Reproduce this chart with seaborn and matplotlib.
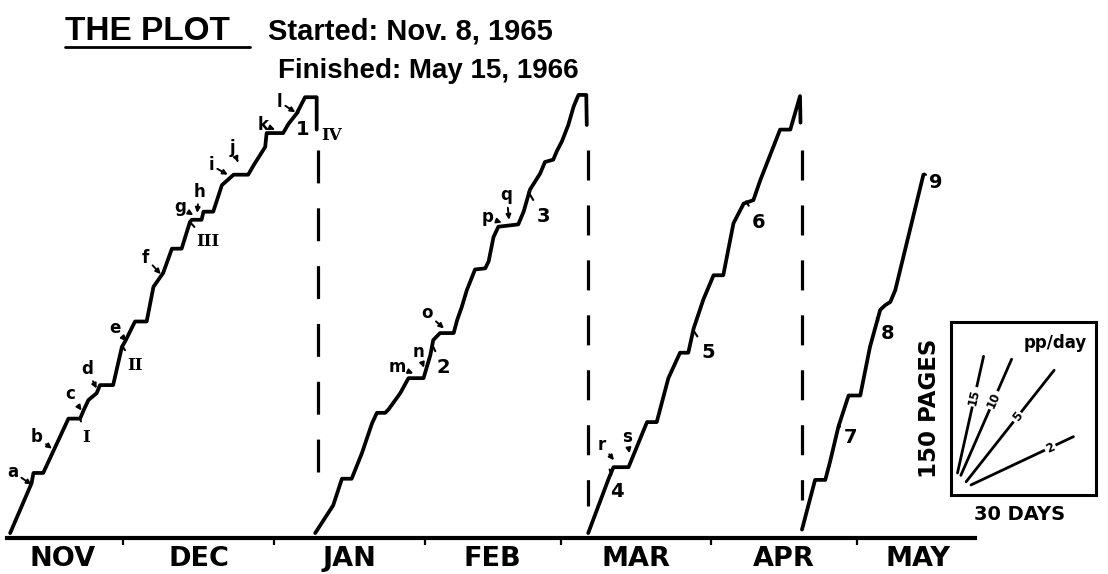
import numpy as np
import pandas as pd
import matplotlib
matplotlib.use("Agg")
import matplotlib.pyplot as plt
from matplotlib.lines import Line2D
import seaborn as sns

# x = days since Nov 1, 1965 ; y = pages written within the current sweep
seg1_days = [6.7, 11.1, 11.5, 13.5, 18.7, 21.1, 21.8, 22.8, 24.5, 25.2, 27.9, 29.7, 30.4, 32.4, 34.8,
             36.2, 38.2, 40.0, 42.0, 43.7, 44.1, 46.1, 46.5, 48.5, 50.3, 52.7, 55.7, 56.8, 59.2, 59.5,
             62.9, 64.0, 65.7, 67.4, 69.8, 69.8]
seg1_pages = [4, 47, 56, 56, 103, 103, 110, 119, 125, 132, 132, 165, 170, 187, 187,
              217, 229, 250, 250, 273, 275, 275, 282, 282, 305, 314, 314, 322, 338, 350,
              350, 358, 367, 381, 381, 353]

seg2_days = [69.5, 73.2, 75.0, 77.0, 79.1, 81.2, 82.2, 83.9, 84.6, 87.0, 88.7, 91.8, 93.2, 93.8, 95.2,
             98.0, 98.7, 99.7, 100.7, 102.4, 104.5, 105.2, 106.2, 107.2, 111.3, 112.4, 113.7, 115.8,
             116.8, 118.5, 119.2, 120.3, 121.6, 122.7, 123.7, 125.3, 125.4]
seg2_pages = [4, 28, 51, 51, 73, 99, 108, 108, 111, 125, 138, 138, 158, 171, 177,
              177, 188, 200, 214, 232, 233, 239, 260, 269, 271, 282, 301, 315,
              325, 327, 334, 343, 357, 373, 383, 383, 357]

seg3_days = [125.7, 129.9, 130.9, 134.0, 137.8, 139.8, 142.2, 144.6, 146.3, 147.4, 149.4, 151.5,
             153.5, 155.6, 157.7, 159.7, 161.1, 165.2, 167.3, 169.3, 169.4]
seg3_pages = [4, 51, 61, 61, 100, 100, 138, 160, 160, 181, 206, 227,
              227, 272, 289, 292, 309, 353, 353, 382, 359]

seg4_days = [169.7, 172.4, 174.5, 175.5, 177.2, 179.3, 181.7, 183.7, 185.8, 186.8, 187.9, 188.9, 194.7]
seg4_pages = [7, 50, 50, 66, 96, 123, 123, 165, 197, 201, 204, 214, 314]

# dashed wrap-around lines
wrap_days = [70.1, 125.7, 169.7]
wrap_low = [56, 27, 33]
wrap_high = [335, 335, 335]

months = ["NOV", "DEC", "JAN", "FEB", "MAR", "APR", "MAY"]
month_label_days = [17.5, 45.5, 76.5, 106, 135.5, 166, 193.5]
month_starts = [30, 61, 92, 120, 151, 181]

# lettered arrows
letters = list("abcdefghijklmnopqrs")
letter_day = [7.2, 12.2, 19.0, 22.5, 28.3, 34.6, 41.7, 45.6, 48.1, 52.4, 58.8, 62.1,
              86.3, 90.7, 92.5, 104.9, 108.9, 128.5, 133.6]
letter_pages = [57, 87, 124, 146, 181, 242, 286, 299, 322, 337, 357, 377,
                148, 161, 194, 277, 296, 80, 87]
tip_day = [11.1, 15.3, 21.4, 24.5, 30.6, 37.7, 44.4, 45.2, 51.5, 53.6, 61.2, 65.4,
           89.7, 91.9, 96.0, 107.9, 109.4, 131.0, 134.2]
tip_pages = [46, 77, 110, 129, 170, 228, 279, 281, 314, 325, 353, 368,
             142, 147, 181, 272.5, 275, 67, 73]

# roman numerals and numbers with small ticks on the curve
roman = ["I", "II", "III"]
roman_day = [22.3, 32.4, 47.5]
roman_pages = [87, 149, 256]
roman_tick_day = [21.1, 29.9, 43.7]
roman_tick_pages = [103, 165, 273]

numbers = ["1", "2", "3", "4", "5", "6", "7", "8", "9"]
number_day = [66.9, 95.8, 116.4, 131.6, 150.4, 160.7, 179.6, 187.3, 197.3]
number_pages = [353, 147, 278, 40, 160, 273, 87, 177, 307]
number_tick_day = [65.9, 93.8, 113.4, 130.1, 147.4, 158.2, 177.2, 185.1, 194.9]
number_tick_pages = [370, 165, 299, 59, 179, 291, 97.5, 190, 315]

# legend box: pages per day
rate_labels = ["15", "10", "5", "2"]
rate_start_day = [1.4, 2.1, 3.2, 4.2]
rate_start_pages = [19, 17, 11.5, 8.7]
rate_end_day = [6.8, 12.6, 21.4, 25.4]
rate_end_pages = [120, 117.5, 108, 50.5]
rate_label_day = [4.9, 8.9, 13.8, 20.6]
rate_label_pages = [85, 82, 67.5, 41]

sns.set_style("white")
plt.rcParams["font.family"] = ["DejaVu Sans"]
plt.rcParams.update({"text.color": "black", "axes.edgecolor": "black",
                     "xtick.color": "black", "ytick.color": "black"})

W, H = 1108, 574
fig = plt.figure(figsize=(W / 100, H / 100), dpi=100)
ax = fig.add_axes([0, 0, 1, 1])

frames = []
for i, (d, p) in enumerate([(seg1_days, seg1_pages), (seg2_days, seg2_pages),
                            (seg3_days, seg3_pages), (seg4_days, seg4_pages)]):
    frames.append(pd.DataFrame({"day": d, "pages": p, "seg": i}))
df = pd.concat(frames, ignore_index=True)

sns.lineplot(data=df, x="day", y="pages", units="seg", estimator=None, sort=False,
             color="black", lw=2.7, ax=ax, legend=False)

dash_styles = [(0, (10.3, 7.8)), (0, (9.4, 7.8)), (0, (9.4, 7.8))]
for d, lo, hi, ls in zip(wrap_days, wrap_low, wrap_high, dash_styles):
    ax.plot([d, d], [hi, lo], color="black", lw=2.3, linestyle=ls, solid_capstyle="butt")

ax.set_xlim(4.61, 232.7)
ax.set_ylim(-31.4, 465.1)
for s in ["top", "left", "right"]:
    ax.spines[s].set_visible(False)
ax.spines["bottom"].set_position(("data", 0))
ax.spines["bottom"].set_bounds(6, 205.4)
ax.spines["bottom"].set_linewidth(3)
ax.set_xticks(month_starts)
ax.set_yticks([])
ax.tick_params(axis="x", direction="out", length=5, width=1.6, labelbottom=False, bottom=True)
ax.set_xlabel("")
ax.set_ylabel("")

for m, d in zip(months, month_label_days):
    ax.text(d, -24.2, m, ha="center", va="baseline", fontsize=19.5, fontweight="bold")

for t, x, y, tx, ty in zip(letters, letter_day, letter_pages, tip_day, tip_pages):
    ax.annotate(t, xy=(tx, ty), xytext=(x, y), ha="center", va="center",
                fontsize=12, fontweight="bold",
                arrowprops=dict(arrowstyle="-|>", color="black", lw=1.4,
                                mutation_scale=7, shrinkA=0, shrinkB=0))

for t, x, y, tx, ty in zip(roman, roman_day, roman_pages, roman_tick_day, roman_tick_pages):
    ax.annotate(t, xy=(tx, ty), xytext=(x, y), ha="center", va="center",
                fontsize=12, fontweight="bold", family="DejaVu Serif",
                arrowprops=dict(arrowstyle="-", color="black", lw=1.5, shrinkA=3, shrinkB=0))
ax.text(72.9, 348, "IV", ha="center", va="center", fontsize=12, fontweight="bold",
        family="DejaVu Serif")

for t, x, y, tx, ty in zip(numbers, number_day, number_pages, number_tick_day, number_tick_pages):
    ax.annotate(t, xy=(tx, ty), xytext=(x, y), ha="center", va="center",
                fontsize=14, fontweight="bold",
                arrowprops=dict(arrowstyle="-", color="black", lw=1.5, shrinkA=3, shrinkB=0))

# title
fig.text(65 / W, 1 - 40 / H, "THE PLOT", fontsize=24, va="baseline", ha="left",
         family="Liberation Sans", fontweight="bold")
fig.add_artist(Line2D([65 / W, 250 / W], [1 - 47 / H, 1 - 47 / H], color="black", lw=2,
                      transform=fig.transFigure))
fig.text(268 / W, 1 - 40 / H, "Started: Nov. 8, 1965", fontsize=21, va="baseline", ha="left",
         family="Liberation Sans", fontweight="bold")
fig.text(278 / W, 1 - 78 / H, "Finished: May 15, 1966", fontsize=20, va="baseline", ha="left",
         family="Liberation Sans", fontweight="bold")

# inset scale box
ins = fig.add_axes([950.7 / W, (H - 495) / H, 145 / W, 173.3 / H])
ins.set_xlim(0, 30)
ins.set_ylim(0, 150)
ins.set_xticks([])
ins.set_yticks([])
for s in ins.spines.values():
    s.set_visible(True)
    s.set_linewidth(2.2)
    s.set_color("black")
fig.canvas.draw()
for lab, x0, y0, x1, y1, lx, ly in zip(rate_labels, rate_start_day, rate_start_pages,
                                        rate_end_day, rate_end_pages,
                                        rate_label_day, rate_label_pages):
    sns.lineplot(x=[x0, x1], y=[y0, y1], color="black", lw=2, ax=ins, estimator=None,
                 sort=False)
    p0 = ins.transData.transform((x0, y0))
    p1 = ins.transData.transform((x1, y1))
    ang = np.degrees(np.arctan2(p1[1] - p0[1], p1[0] - p0[0]))
    ins.text(lx, ly, lab, rotation=ang, rotation_mode="anchor", ha="center", va="center",
             fontsize=8.5, fontweight="bold",
             bbox=dict(boxstyle="square,pad=0.15", fc="white", ec="none"))
ins.text(21.6, 131.3, "pp/day", ha="center", va="center", fontsize=12, fontweight="bold")
ins.set_xlabel("")
ins.set_ylabel("")

fig.text(929 / W, 1 - 408 / H, "150 PAGES", rotation=90, ha="center", va="center", fontsize=16.5,
         fontweight="bold")
fig.text(1020 / W, 1 - 514 / H, "30 DAYS", ha="center", va="center", fontsize=14,
         fontweight="bold")

fig.savefig("out.png", dpi=100)
